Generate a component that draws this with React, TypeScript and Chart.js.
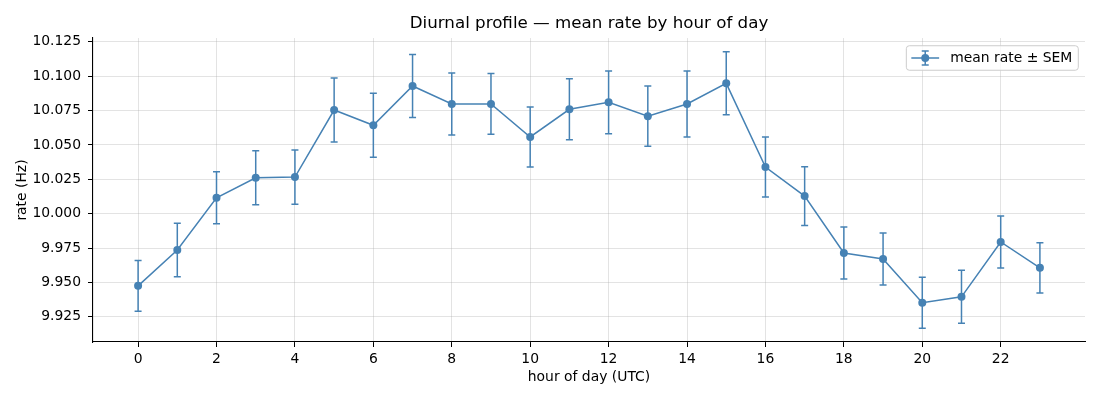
import React, { useEffect, useRef } from "react";
import { Chart, registerables } from "chart.js";

Chart.register(...registerables);

// hourly means and standard errors
const hours = [0, 1, 2, 3, 4, 5, 6, 7, 8, 9, 10, 11, 12, 13, 14, 15, 16, 17, 18, 19, 20, 21, 22, 23];
const meanRate = [
    9.9475, 9.9736, 10.0116, 10.0261, 10.0266, 10.0754, 10.0643, 10.0929,
    10.0798, 10.0798, 10.0558, 10.0759, 10.081, 10.0709, 10.0798, 10.0948,
    10.0339, 10.0128, 9.9714, 9.9671, 9.9352, 9.9395, 9.9794, 9.9606,
];
const sem = [
    0.0185, 0.0194, 0.0189, 0.0196, 0.0197, 0.0232, 0.0233, 0.0229,
    0.0225, 0.0221, 0.0218, 0.0222, 0.0228, 0.0219, 0.024, 0.0229,
    0.0218, 0.0214, 0.0189, 0.0189, 0.0185, 0.0193, 0.0189, 0.0183,
];
const xTicks = [0, 2, 4, 6, 8, 10, 12, 14, 16, 18, 20, 22];
const yTicks = [9.925, 9.95, 9.975, 10.0, 10.025, 10.05, 10.075, 10.1, 10.125];

const SERIES_LABEL = "mean rate \u00b1 SEM";
const LINE_COLOR = "#4682b4";
const GRID_COLOR = "rgba(176,176,176,0.35)";
const FONT = "'DejaVu Sans', sans-serif";

// matplotlib-style 5% margins around the data (incl. error bars)
const lo = Math.min(...meanRate.map((m, i) => m - sem[i]));
const hi = Math.max(...meanRate.map((m, i) => m + sem[i]));
const yPad = (hi - lo) * 0.05;
const xPad = (hours[hours.length - 1] - hours[0]) * 0.05;

const errorBarPlugin = {
    id: "errorBars",
    beforeDatasetsDraw(chart: any) {
        const { ctx, chartArea, scales } = chart;
        const { x, y } = scales;
        ctx.save();
        ctx.beginPath();
        ctx.rect(chartArea.left, chartArea.top, chartArea.right - chartArea.left, chartArea.bottom - chartArea.top);
        ctx.clip();
        ctx.strokeStyle = LINE_COLOR;
        ctx.lineWidth = 1.5;
        hours.forEach((h, i) => {
            const px = x.getPixelForValue(h);
            const top = y.getPixelForValue(meanRate[i] + sem[i]);
            const bot = y.getPixelForValue(meanRate[i] - sem[i]);
            ctx.beginPath();
            ctx.moveTo(px, top);
            ctx.lineTo(px, bot);
            ctx.moveTo(px - 3.5, top);
            ctx.lineTo(px + 3.5, top);
            ctx.moveTo(px - 3.5, bot);
            ctx.lineTo(px + 3.5, bot);
            ctx.stroke();
        });
        ctx.restore();
    },
};

// framed legend in the upper right, like matplotlib's
const legendPlugin = {
    id: "mplLegend",
    afterDraw(chart: any) {
        const { ctx, chartArea } = chart;
        ctx.save();
        ctx.font = `13.9px ${FONT}`;
        const textW = ctx.measureText(SERIES_LABEL).width;
        const handle = 27.8;
        const w = 5 + handle + 11.1 + textW + 6;
        const h = 24.5;
        const bx = chartArea.right - 6.7 - w;
        const by = chartArea.top + 7.7;

        ctx.beginPath();
        ctx.roundRect(bx, by, w, h, 3);
        ctx.fillStyle = "rgba(255,255,255,0.8)";
        ctx.fill();
        ctx.strokeStyle = "#cccccc";
        ctx.lineWidth = 1;
        ctx.stroke();

        const cy = by + h / 2;
        const hx = bx + 5;
        const cx = hx + handle / 2;
        ctx.strokeStyle = LINE_COLOR;
        ctx.lineWidth = 1.5;
        ctx.beginPath();
        ctx.moveTo(hx, cy);
        ctx.lineTo(hx + handle, cy);
        ctx.moveTo(cx, cy - 7);
        ctx.lineTo(cx, cy + 7);
        ctx.moveTo(cx - 3.5, cy - 7);
        ctx.lineTo(cx + 3.5, cy - 7);
        ctx.moveTo(cx - 3.5, cy + 7);
        ctx.lineTo(cx + 3.5, cy + 7);
        ctx.stroke();
        ctx.beginPath();
        ctx.arc(cx, cy, 4, 0, Math.PI * 2);
        ctx.fillStyle = LINE_COLOR;
        ctx.fill();

        ctx.fillStyle = "#000";
        ctx.textBaseline = "middle";
        ctx.textAlign = "left";
        ctx.fillText(SERIES_LABEL, hx + handle + 11.1, cy + 0.5);
        ctx.restore();
    },
};

export default function App() {
    const canvasRef = useRef<HTMLCanvasElement | null>(null);
    const chartRef = useRef<Chart | null>(null);

    useEffect(() => {
        document.body.style.margin = "0";
        if (!canvasRef.current) return;
        const ctx = canvasRef.current.getContext("2d");
        if (!ctx) return;

        if (chartRef.current) {
            chartRef.current.destroy();
        }

        chartRef.current = new Chart(ctx, {
            type: "line",
            data: {
                datasets: [
                    {
                        label: SERIES_LABEL,
                        data: hours.map((h, i) => ({ x: h, y: meanRate[i] })),
                        borderColor: LINE_COLOR,
                        backgroundColor: LINE_COLOR,
                        borderWidth: 1.5,
                        pointRadius: 4,
                        pointBorderWidth: 0,
                        pointBackgroundColor: LINE_COLOR,
                        tension: 0,
                    },
                ],
            },
            options: {
                animation: false,
                responsive: true,
                maintainAspectRatio: false,
                layout: {
                    padding: { left: 0, right: 15, top: 0, bottom: 0 },
                },
                plugins: {
                    legend: { display: false },
                    tooltip: { enabled: false },
                    title: {
                        display: true,
                        text: "Diurnal profile \u2014 mean rate by hour of day",
                        fullSize: false,
                        color: "#000",
                        font: { family: FONT, size: 16.7, weight: "normal" },
                        padding: { top: 14, bottom: 4 },
                    },
                },
                scales: {
                    x: {
                        type: "linear",
                        min: hours[0] - xPad,
                        max: hours[hours.length - 1] + xPad,
                        afterBuildTicks: (s: any) => {
                            s.ticks = xTicks.map((v) => ({ value: v }));
                        },
                        afterFit: (s: any) => {
                            s.height = 58;
                        },
                        ticks: {
                            color: "#000",
                            font: { family: FONT, size: 13.9 },
                            padding: 4,
                            autoSkip: false,
                            maxRotation: 0,
                            callback: (v: any) => String(v),
                        },
                        grid: { color: GRID_COLOR, tickColor: "#000", tickLength: 5, lineWidth: 1 },
                        border: { color: "#000", width: 1.1 },
                        title: {
                            display: true,
                            text: "hour of day (UTC)",
                            color: "#000",
                            font: { family: FONT, size: 13.9 },
                            padding: { top: 4, bottom: 14.5 },
                        },
                    },
                    y: {
                        type: "linear",
                        min: lo - yPad,
                        max: hi + yPad,
                        afterBuildTicks: (s: any) => {
                            s.ticks = yTicks.map((v) => ({ value: v }));
                        },
                        afterFit: (s: any) => {
                            s.width = 93;
                        },
                        ticks: {
                            color: "#000",
                            font: { family: FONT, size: 13.9 },
                            padding: 7,
                            autoSkip: false,
                            callback: (v: any) => Number(v).toFixed(3),
                        },
                        grid: { color: GRID_COLOR, tickColor: "#000", tickLength: 5, lineWidth: 1 },
                        border: { color: "#000", width: 1.1 },
                        title: {
                            display: true,
                            text: "rate (Hz)",
                            color: "#000",
                            font: { family: FONT, size: 13.9 },
                            padding: { top: 14, bottom: 0 },
                        },
                    },
                },
            },
            plugins: [errorBarPlugin, legendPlugin],
        });

        return () => {
            chartRef.current?.destroy();
            chartRef.current = null;
        };
    }, []);

    return (
        <div style={{ position: "relative", width: 1100, height: 400, background: "#fff" }}>
            <canvas ref={canvasRef}></canvas>
        </div>
    );
}
